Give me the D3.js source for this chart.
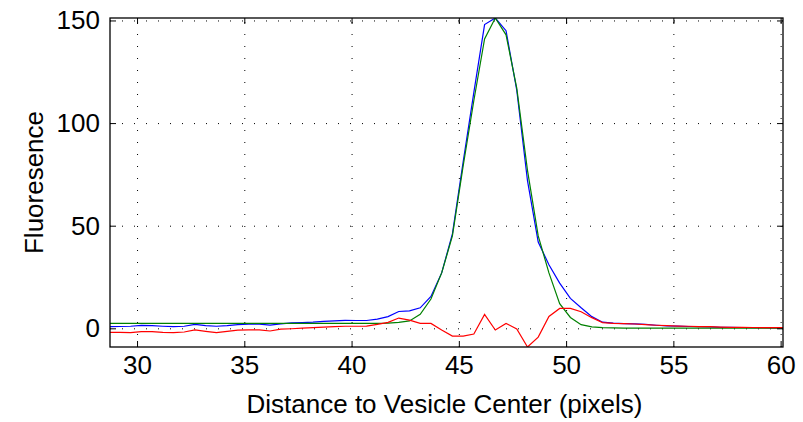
<!DOCTYPE html>
<html>
<head>
<meta charset="utf-8">
<script src="https://cdn.jsdelivr.net/npm/d3@7"></script>
<style>
  body { margin: 0; background: #fff; }
  text { font-family: "Liberation Sans", Arial, sans-serif; fill: #000; }
</style>
</head>
<body>
<svg id="grafica" width="803" height="422"></svg>
<script>
// distancia (pixels)
var distancia = [28.7, 29.2, 29.7, 30.2, 30.7, 31.2, 31.7, 32.2, 32.7, 33.2,
  33.7, 34.2, 34.7, 35.2, 35.7, 36.2, 36.7, 37.2, 37.7, 38.2,
  38.7, 39.2, 39.7, 40.2, 40.7, 41.2, 41.7, 42.2, 42.7, 43.2,
  43.7, 44.2, 44.7, 45.2, 45.7, 46.2, 46.7, 47.2, 47.7, 48.2,
  48.7, 49.2, 49.7, 50.2, 50.7, 51.2, 51.7, 52.2, 52.7, 53.2,
  53.7, 54.2, 54.7, 55.2, 55.7, 56.2, 56.7, 57.2, 57.7, 58.2,
  58.7, 59.2, 59.7, 60.2]

var azul = [0.8, 0.9, 1.0, 1.4, 1.3, 1.0, 0.8, 1.0, 1.9, 1.3,
  1.0, 1.3, 1.8, 2.0, 2.0, 1.6, 2.2, 2.7, 2.8, 3.0,
  3.4, 3.6, 3.9, 3.8, 3.8, 4.5, 5.7, 8.2, 8.5, 10,
  15.5, 27, 46, 81, 115, 148, 151.2, 145, 116, 72,
  42, 31, 22, 14.6, 10, 5.7, 3.0, 2.5, 2.3, 2.2,
  1.9, 1.5, 1.2, 1.1, 0.9, 0.8, 0.7, 0.5, 0.5, 0.4,
  0.3, 0.3, 0.2, 0.2]

var verde = [2.4, 2.4, 2.4, 2.4, 2.4, 2.4, 2.4, 2.4, 2.4, 2.4,
  2.4, 2.4, 2.4, 2.4, 2.4, 2.4, 2.4, 2.4, 2.4, 2.4,
  2.4, 2.4, 2.4, 2.4, 2.4, 2.4, 2.5, 2.9, 3.6, 6.8,
  14.3, 27, 45, 79, 111, 141, 151.2, 143, 117, 77,
  45, 27, 12, 5.3, 1.8, 0.7, 0.3, 0.2, 0.1, 0.1,
  0.1, 0.1, 0.1, 0.1, 0.1, 0.1, 0.1, 0.1, 0.1, 0.1,
  0.1, 0.1, 0.1, 0.1]

var rojo = [-2.0, -2.0, -2.1, -1.6, -1.6, -2.0, -2.1, -1.8, -0.8, -1.5,
  -2.1, -1.5, -0.9, -0.8, -0.8, -1.3, -0.4, -0.2, 0.1, 0.3,
  0.6, 0.8, 1.0, 1.0, 1.1, 1.9, 2.9, 5.0, 4.0, 2.4,
  2.4, -0.8, -3.8, -3.8, -2.8, 6.8, -0.8, 2.4, -0.3, -9.1,
  -4.3, 5.8, 9.7, 9.7, 8.1, 5.2, 2.8, 2.4, 2.3, 2.1,
  1.8, 1.5, 1.3, 1.1, 1.0, 0.8, 0.8, 0.6, 0.5, 0.5,
  0.4, 0.3, 0.3, 0.3]

var xTicks = [30, 35, 40, 45, 50, 55, 60]
var yTicks = [0, 50, 100, 150]

var series = [
  { nombre: 'azul', valores: azul, color: '#0000ff' },
  { nombre: 'verde', valores: verde, color: '#008000' },
  { nombre: 'rojo', valores: rojo, color: '#ff0000' }
]

var margin = { top: 18, right: 20, bottom: 75, left: 110 },
    width = 783 - margin.left,
    height = 347 - margin.top

var svg = d3.select('#grafica')

var g = svg.append('g')
  .attr('transform', 'translate(' + margin.left + ',' + margin.top + ')')

var x = d3.scaleLinear()
  .domain([28.74, 60.11])
  .range([0, width])

var y = d3.scaleLinear()
  .domain([-9.1, 151.2])
  .range([height, 0])

// grid punteado
g.append('g')
  .attr('class', 'grid')
  .attr('transform', 'translate(0,' + height + ')')
  .call(d3.axisBottom(x).tickValues(xTicks).tickSize(-height).tickFormat(''))
g.append('g')
  .attr('class', 'grid')
  .call(d3.axisLeft(y).tickValues(yTicks).tickSize(-width).tickFormat(''))
g.selectAll('.grid .domain').remove()
g.selectAll('.grid line')
  .attr('stroke', '#000')
  .attr('stroke-width', 1)
  .attr('stroke-dasharray', '1,11')

g.append('clipPath')
  .attr('id', 'recorte')
  .append('rect')
  .attr('width', width)
  .attr('height', height)

var linea = d3.line()
  .x(function (d, i) { return x(distancia[i]) })
  .y(function (d) { return y(d) })

g.append('g')
  .attr('clip-path', 'url(#recorte)')
  .selectAll('path.serie')
  .data(series)
  .enter()
  .append('path')
  .attr('class', 'serie')
  .attr('fill', 'none')
  .attr('stroke', function (d) { return d.color })
  .attr('stroke-width', 1.2)
  .attr('d', function (d) { return linea(d.valores) })

// ejes con ticks hacia adentro
g.append('g')
  .attr('transform', 'translate(0,' + height + ')')
  .call(d3.axisBottom(x).tickValues(xTicks).tickSizeInner(-6).tickSizeOuter(0).tickPadding(9))
g.append('g')
  .call(d3.axisTop(x).tickValues(xTicks).tickSizeInner(-6).tickSizeOuter(0).tickFormat(''))
g.append('g')
  .call(d3.axisLeft(y).tickValues(yTicks).tickSizeInner(-6).tickSizeOuter(0).tickPadding(10))
g.append('g')
  .attr('transform', 'translate(' + width + ',0)')
  .call(d3.axisRight(y).tickValues(yTicks).tickSizeInner(-6).tickSizeOuter(0).tickFormat(''))

g.selectAll('.domain').remove()
g.selectAll('.tick line').filter(function () { return !this.closest('.grid') })
  .attr('stroke', '#000')
  .attr('stroke-width', 1)
g.selectAll('.tick text')
  .style('font-family', '"Liberation Sans", Arial, sans-serif')
  .style('font-size', '26px')
  .attr('fill', '#000')

g.append('rect')
  .attr('x', 0)
  .attr('y', 0)
  .attr('width', width)
  .attr('height', height)
  .attr('fill', 'none')
  .attr('stroke', '#000')
  .attr('stroke-width', 1.3)

svg.append('text')
  .attr('x', margin.left + width / 2 - 2)
  .attr('y', 413)
  .attr('text-anchor', 'middle')
  .style('font-size', '26px')
  .text('Distance to Vesicle Center (pixels)')

svg.append('text')
  .attr('transform', 'translate(43,' + (margin.top + height / 2) + ') rotate(-90)')
  .attr('text-anchor', 'middle')
  .style('font-size', '26px')
  .text('Fluoresence')
</script>
</body>
</html>
